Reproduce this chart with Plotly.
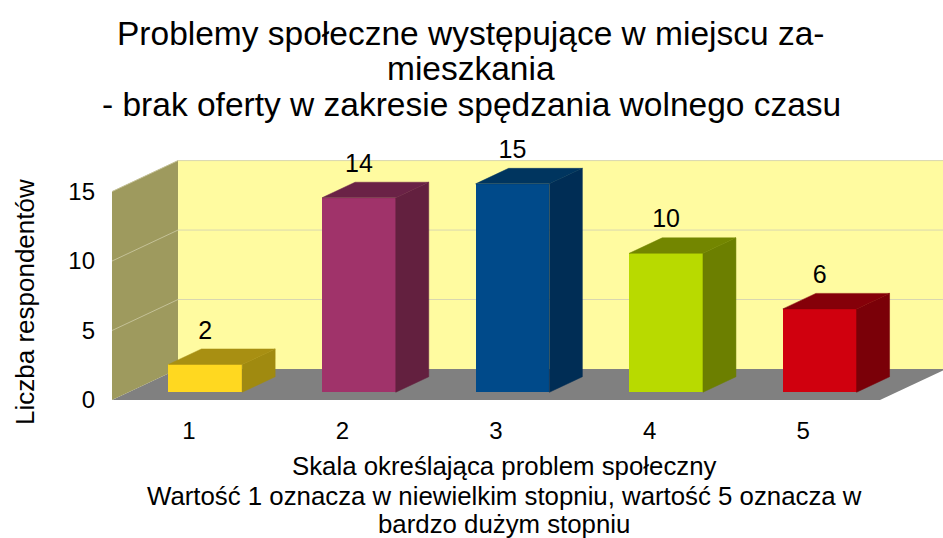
import plotly.graph_objects as go

# ---- data ----
categories = [1, 2, 3, 4, 5]
values = [2, 14, 15, 10, 6]
y_ticks = [0, 5, 10, 15]
value_labels = ["2", "14", "15", "10", "6"]

title_lines = ["Problemy społeczne występujące w miejscu za-",
               "mieszkania",
               "- brak oferty w zakresie spędzania wolnego czasu"]
y_title = "Liczba respondentów"
x_title_lines = ["Skala określająca problem społeczny",
                 "Wartość 1 oznacza w niewielkim stopniu, wartość 5 oznacza w",
                 "bardzo dużym stopniu"]

front_colors = ["#FFD820", "#A0336A", "#004A8A", "#B8DA00", "#D0000E"]
side_colors = ["#A08A10", "#63203F", "#002D55", "#6C7F00", "#7A0008"]
top_colors = ["#A88F12", "#6A2246", "#00355F", "#738600", "#850009"]

# ---- geometry (oblique 3D look) ----
W, H = 943, 538
ML, MB, MT = 112, 138, 136
PXX = 153.6                        # px per category unit
plot_w = W - ML
plot_h = H - MB - MT
YMAX = 19.0
PXY = plot_h / YMAX
DX = 66 / PXX                      # depth vector in data units
DY = 31 / PXY
BW = 0.48                          # bar width
XMIN = 0.5
XMAX = XMIN + plot_w / PXX
xl, xr = categories[0] - 0.5, categories[-1] + 0.5
wall_top = y_ticks[-1]


def path(xs, ys):
    return "M " + " L ".join(f"{x},{y}" for x, y in zip(xs, ys)) + " Z"


shapes = []
# floor
shapes.append(dict(type="path", xref="x", yref="y", layer="below",
                   path=path([xl, xr, xr + DX, xl + DX], [0, 0, DY, DY]),
                   fillcolor="#808080", line=dict(width=0)))
# side wall
shapes.append(dict(type="path", xref="x", yref="y", layer="below",
                   path=path([xl, xl + DX, xl + DX, xl],
                             [0, DY, wall_top + DY, wall_top]),
                   fillcolor="#9E9A5E", line=dict(width=0)))
# back wall
shapes.append(dict(type="path", xref="x", yref="y", layer="below",
                   path=path([xl + DX, xr + DX, xr + DX, xl + DX],
                             [DY, DY, wall_top + DY, wall_top + DY]),
                   fillcolor="#FFFBA0", line=dict(width=0)))
# grid lines on walls
for t in y_ticks[1:]:
    shapes.append(dict(type="line", xref="x", yref="y", layer="below",
                       x0=xl, y0=t, x1=xl + DX, y1=t + DY,
                       line=dict(color="#C4C197", width=1)))
    shapes.append(dict(type="line", xref="x", yref="y", layer="below",
                       x0=xl + DX, y0=t + DY, x1=xr + DX, y1=t + DY,
                       line=dict(color="#D9D7B0", width=1)))

fig = go.Figure()


def poly(xs, ys, color):
    fig.add_trace(go.Scatter(
        x=xs + [xs[0]], y=ys + [ys[0]], mode="lines", fill="toself",
        fillcolor=color, line=dict(color=color, width=0.5),
        hoverinfo="skip", showlegend=False))


# bar front faces
bx = [c + 0.25 * DX for c in categories]
bb = 0.25 * DY
fig.add_trace(go.Bar(
    x=bx, y=values, base=bb, width=BW,
    marker=dict(color=front_colors, line=dict(width=0)),
    hoverinfo="skip", showlegend=False))

# bar side and top faces
for i, (x, v) in enumerate(zip(bx, values)):
    r = x + BW / 2
    l = x - BW / 2
    poly([r, r + 0.5 * DX, r + 0.5 * DX, r],
         [bb, bb + 0.5 * DY, bb + v + 0.5 * DY, bb + v], side_colors[i])
    poly([l, r, r + 0.5 * DX, l + 0.5 * DX],
         [bb + v, bb + v, bb + v + 0.5 * DY, bb + v + 0.5 * DY], top_colors[i])

# value labels
fig.add_trace(go.Scatter(
    x=bx, y=[v + bb + 0.5 * DY + 0.3 for v in values], mode="text",
    text=value_labels, textposition="top center",
    textfont=dict(size=25, color="#000000", family="Liberation Sans"),
    cliponaxis=False, hoverinfo="skip", showlegend=False))


def px_to_paper_x(px):
    return (px - ML) / plot_w


def px_to_paper_y(py):
    return (H - MB - py) / plot_h


annotations = []
for line, cy in zip(title_lines, [34, 69, 104]):
    annotations.append(dict(text=line, xref="paper", yref="paper",
                            x=px_to_paper_x(471), y=px_to_paper_y(cy),
                            xanchor="center", yanchor="middle", showarrow=False,
                            font=dict(size=33.5)))
for line, cy in zip(x_title_lines, [466, 496, 524]):
    annotations.append(dict(text=line, xref="paper", yref="paper",
                            x=px_to_paper_x(504), y=px_to_paper_y(cy),
                            xanchor="center", yanchor="middle", showarrow=False,
                            font=dict(size=25.8)))
annotations.append(dict(text=y_title, textangle=-90, xref="paper", yref="paper",
                        x=px_to_paper_x(25), y=px_to_paper_y(302),
                        xanchor="center", yanchor="middle", showarrow=False,
                        font=dict(size=26)))

fig.update_layout(
    width=W, height=H,
    margin=dict(l=ML, r=0, t=MT, b=MB),
    paper_bgcolor="white", plot_bgcolor="white",
    font=dict(family="Liberation Sans", color="#000000", size=24),
    xaxis=dict(range=[XMIN, XMAX], tickvals=categories,
               ticktext=[str(c) for c in categories],
               showgrid=False, zeroline=False, showline=False,
               tickfont=dict(size=24), ticklen=0, ticklabelstandoff=14,
               automargin=False, fixedrange=True),
    yaxis=dict(range=[0, YMAX], tickvals=y_ticks,
               showgrid=False, zeroline=False, showline=False,
               tickfont=dict(size=24), ticklabelstandoff=16,
               automargin=False, fixedrange=True),
    bargap=0,
    shapes=shapes,
    annotations=annotations,
)

fig.write_html("out.html",
               config={"displayModeBar": False},
               post_script="document.body.style.margin='0px';"
                           "document.body.style.overflow='hidden';")
